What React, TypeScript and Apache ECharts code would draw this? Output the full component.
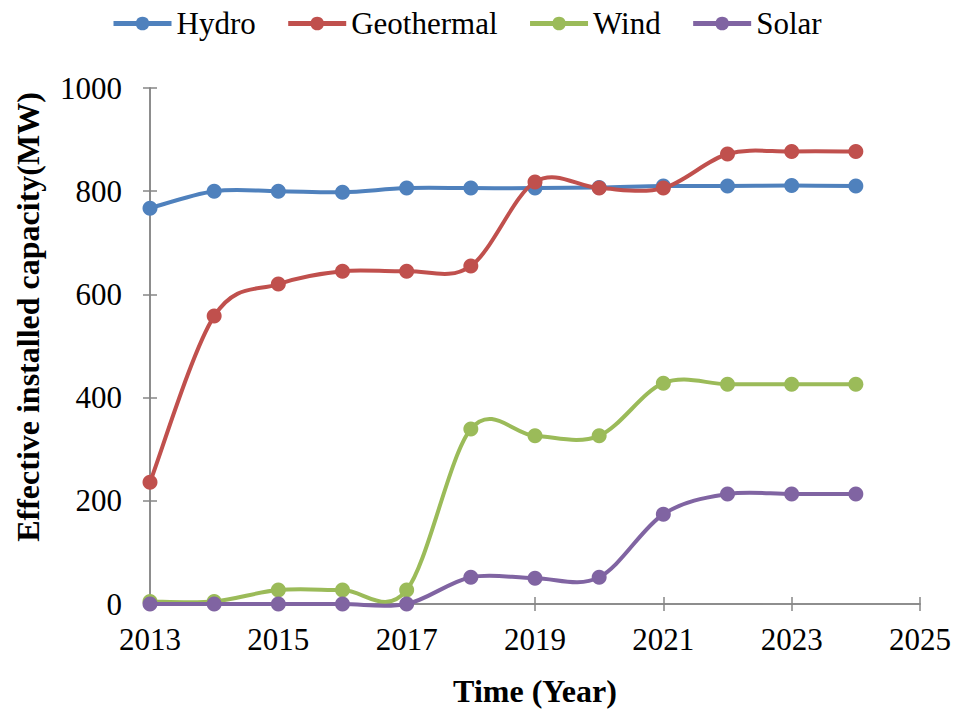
import React, { useEffect, useRef } from "react";
import * as echarts from "echarts";

// Effective installed capacity by source, 2013–2024 (MW)
const years = [2013, 2014, 2015, 2016, 2017, 2018, 2019, 2020, 2021, 2022, 2023, 2024];
const hydro = [767, 800, 800, 798, 806, 806, 806, 807, 810, 810, 811, 810];
const geothermal = [236, 558, 620, 645, 645, 655, 818, 806, 806, 872, 877, 877];
const wind = [5, 5, 27, 27, 27, 339, 326, 326, 428, 426, 426, 426];
const solar = [0, 0, 0, 0, 0, 52, 50, 52, 174, 213, 213, 213];

const baseYear = 2013;
const lastTickYear = 2025;
const yearStep = 2;

const seriesDefs = [
  { name: "Hydro", values: hydro, color: "#4F81BD" },
  { name: "Geothermal", values: geothermal, color: "#C0504D" },
  { name: "Wind", values: wind, color: "#9BBB59" },
  { name: "Solar", values: solar, color: "#8064A2" },
];

const FONT = "Liberation Serif, Times New Roman, serif";
const AXIS_GREY = "#868686";
const LINE_WIDTH = 4;

// Catmull-Rom style smoothing (tension 1/6) through the projected points
function smoothPath(pts: number[][]): string {
  if (!pts.length) return "";
  let d = `M${pts[0][0]},${pts[0][1]}`;
  for (let i = 0; i < pts.length - 1; i++) {
    const p0 = pts[i - 1] || pts[i];
    const p1 = pts[i];
    const p2 = pts[i + 1];
    const p3 = pts[i + 2] || p2;
    const c1x = p1[0] + (p2[0] - p0[0]) / 6;
    const c1y = p1[1] + (p2[1] - p0[1]) / 6;
    const c2x = p2[0] - (p3[0] - p1[0]) / 6;
    const c2y = p2[1] - (p3[1] - p1[1]) / 6;
    d += ` C${c1x},${c1y} ${c2x},${c2y} ${p2[0]},${p2[1]}`;
  }
  return d;
}

export default function App() {
  const ref = useRef<HTMLDivElement>(null);

  useEffect(() => {
    if (!ref.current) return;
    const chart = echarts.init(ref.current, undefined, { renderer: "svg" });

    // x values are offsets from the base year so ticks land on odd years
    const xCommon = {
      type: "value" as const,
      min: 0,
      max: lastTickYear - baseYear,
      interval: yearStep,
      position: "bottom" as const,
      splitLine: { show: false },
      axisLine: { show: true, onZero: true, lineStyle: { color: AXIS_GREY, width: 1.5 } },
    };
    const yCommon = {
      type: "value" as const,
      min: 0,
      max: 1000,
      interval: 200,
      position: "left" as const,
      splitLine: { show: false },
      axisLine: { show: true, lineStyle: { color: AXIS_GREY, width: 1.5 } },
    };

    const curveSeries = seriesDefs.map((s, k) => ({
      name: s.name + " curve",
      type: "custom",
      xAxisIndex: 0,
      yAxisIndex: 0,
      z: 10 + 2 * k,
      silent: true,
      data: years.map((y, i) => [y - baseYear, s.values[i]]),
      renderItem: (params: any, api: any) => {
        if (params.dataIndex !== 0) return null;
        const pts = years.map((y, i) => api.coord([y - baseYear, s.values[i]]));
        return {
          type: "path",
          shape: { pathData: smoothPath(pts) },
          style: { fill: "none", stroke: s.color, lineWidth: LINE_WIDTH, lineJoin: "round" },
        };
      },
    }));

    const markerSeries = seriesDefs.map((s, k) => ({
      name: s.name,
      type: "line",
      symbol: "circle",
      symbolSize: 15,
      xAxisIndex: 0,
      yAxisIndex: 0,
      z: 11 + 2 * k,
      color: s.color,
      lineStyle: { color: s.color, width: LINE_WIDTH, opacity: 0 },
      itemStyle: { color: s.color },
      data: years.map((y, i) => [y - baseYear, s.values[i]]),
    }));

    chart.setOption({
      animation: false,
      backgroundColor: "#ffffff",
      textStyle: { fontFamily: FONT },
      legend: {
        top: 8,
        left: 111,
        padding: 0,
        itemWidth: 58,
        itemHeight: 17,
        itemGap: 30,
        lineStyle: { width: 5, opacity: 1, type: "solid" },
        textStyle: { fontFamily: FONT, fontSize: 31, color: "#000" },
        data: seriesDefs.map((s) => s.name),
      },
      grid: { left: 150, right: 35, top: 88, bottom: 105, outerBoundsMode: "none", containLabel: false },
      xAxis: [
        {
          ...xCommon,
          name: "Time (Year)",
          nameLocation: "middle",
          nameGap: 71,
          nameTextStyle: { fontFamily: FONT, fontSize: 32, fontWeight: "bold", color: "#000" },
          axisTick: { show: true, inside: false, length: 7, lineStyle: { color: AXIS_GREY, width: 1.5 } },
          axisLabel: {
            margin: 20,
            fontFamily: FONT,
            fontSize: 31,
            color: "#000",
            formatter: (v: number) => String(baseYear + v),
          },
        },
        {
          ...xCommon,
          axisTick: { show: true, inside: true, length: 7, lineStyle: { color: AXIS_GREY, width: 1.5 } },
          axisLabel: { show: false },
        },
      ],
      yAxis: [
        {
          ...yCommon,
          name: "Effective installed capacity(MW)",
          nameLocation: "middle",
          nameGap: 106,
          nameTextStyle: {
            fontFamily: FONT,
            fontSize: 32,
            fontWeight: "bold",
            color: "#000",
            padding: [0, 0, 0, 58],
          },
          axisTick: { show: true, inside: false, length: 7, lineStyle: { color: AXIS_GREY, width: 1.5 } },
          axisLabel: {
            margin: 28,
            fontFamily: FONT,
            fontSize: 31,
            color: "#000",
            formatter: (v: number) => String(v),
          },
        },
        {
          ...yCommon,
          axisTick: { show: true, inside: true, length: 7, lineStyle: { color: AXIS_GREY, width: 1.5 } },
          axisLabel: { show: false },
        },
      ],
      series: [...curveSeries, ...markerSeries],
    });

    return () => chart.dispose();
  }, []);

  return (
    <div
      ref={ref}
      style={{ position: "fixed", left: 0, top: 0, width: 955, height: 709 }}
    />
  );
}
